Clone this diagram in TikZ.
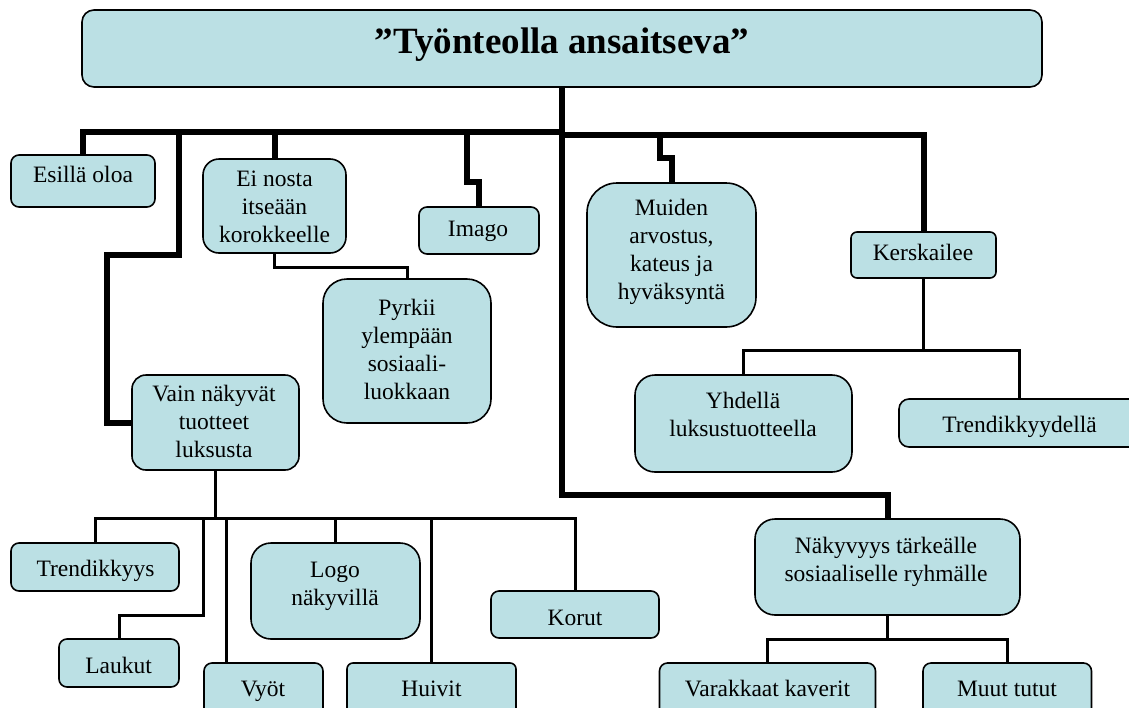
\documentclass[tikz,border=0pt]{standalone}
\usepackage{tikz}
\usepackage{fontspec}
\setmainfont{Liberation Serif}
\usetikzlibrary{calc}
\definecolor{boxfill}{RGB}{187,224,228}
\pgfdeclarelayer{bg}
\pgfsetlayers{bg,main}
\newcommand\mybox[6]{\node[bx, rounded corners=#6pt, minimum width={#4-#2}, minimum height={#5-#3}] (#1) at ({(#2+#4)/2},{(#3+#5)/2}) {};}
\begin{document}
\begin{tikzpicture}[x=1pt,y=-1pt,
  bx/.style={draw=black, line width=1.6pt, fill=boxfill, inner sep=0pt, outer sep=0pt},
  txt/.style={inner sep=0pt, outer sep=0pt, align=center, font=\fontsize{23.5}{28}\selectfont,
    execute at begin node=\strut, execute at end node=\strut},
  ttl/.style={inner sep=0pt, outer sep=0pt, align=center, font=\bfseries\fontsize{37}{44}\selectfont,
    execute at begin node=\strut, execute at end node=\strut},
  thk/.style={line width=6pt},
  thn/.style={line width=3pt}]
\useasboundingbox (0,0) rectangle (1129,707);
\clip (0,0) rectangle (1129,707);
% boxes
\mybox{title}{82}{10}{1042}{87}{12}
\mybox{esilla}{11}{155}{155}{207}{8}
\mybox{einosta}{203}{159}{346}{253}{16}
\mybox{imago}{419}{207}{539}{254}{8}
\mybox{muiden}{587}{183}{756}{327}{30}
\mybox{kersk}{851}{232}{996}{278}{6}
\mybox{pyrkii}{323}{279}{491}{423}{24}
\mybox{vain}{132}{375}{299}{470}{14}
\mybox{yhd}{635}{375}{852}{472}{20}
\mybox{trendB}{899}{399}{1140}{447}{10}
\mybox{nakyv}{755}{519}{1020}{615}{20}
\mybox{trendk}{11}{543}{179}{591}{8}
\mybox{logo}{251}{543}{420}{639}{20}
\mybox{korut}{491}{591}{659}{638}{8}
\mybox{laukut}{59}{639}{179}{687}{8}
\mybox{vyot}{204}{663}{323}{720}{8}
\mybox{huivit}{347}{663}{516}{720}{6}
\mybox{varak}{659.5}{663}{875.5}{720}{8}
\mybox{muut}{923}{663}{1091.5}{720}{8}
% texts
\node[ttl] (titleT) at (562,44.5) {”Työnteolla ansaitseva”};
\node[txt] (esillaT) at (83,177) {Esillä oloa};
\node[txt] (einostaT) at (274.5,211) {Ei nosta\\itseään\\korokkeelle};
\node[txt] (imagoT) at (478,230.4) {Imago};
\node[txt] (muidenT) at (671.5,253.4) {Muiden\\arvostus,\\kateus ja\\hyväksyntä};
\node[txt] (kerskT) at (923,254.4) {Kerskailee};
\node[txt] (pyrkiiT) at (407,353.4) {Pyrkii\\ylempään\\sosiaali-\\luokkaan};
\node[txt] (vainT) at (214,425.7) {Vain näkyvät\\tuotteet\\luksusta};
\node[txt] (yhdT) at (743,418.4) {Yhdellä\\luksustuotteella};
\node[txt] (trendBT) at (1019.5,427) {Trendikkyydellä};
\node[txt] (nakyvT) at (886,563.4) {Näkyvyys tärkeälle\\sosiaaliselle ryhmälle};
\node[txt] (trendkT) at (95.5,571) {Trendikkyys};
\node[txt] (logoT) at (335,588.4) {Logo\\näkyvillä};
\node[txt] (korutT) at (575,619.4) {Korut};
\node[txt] (laukutT) at (118.6,667.7) {Laukut};
\node[txt] (vyotT) at (263,691) {Vyöt};
\node[txt] (huivitT) at (431.5,691) {Huivit};
\node[txt] (varakT) at (767.5,691) {Varakkaat kaverit};
\node[txt] (muutT) at (1007,691) {Muut tutut};
% connectors
\begin{pgfonlayer}{bg}
\coordinate (barJ) at (562,131.5);
\coordinate (barJr) at (562,134.5);
\coordinate (tn) at (887.5,495);
\draw[thk] (title.south) |- (tn) -- (nakyv.north);
\draw[thk] (esilla.north) |- (barJ);
\draw[thk] (barJr) -| (kersk.north);
\draw[thk] (einosta.north) -- (einosta.north |- barJ);
\coordinate (L1) at (178.5,131.5);
\coordinate (L2) at (178.5,255);
\coordinate (L3) at (107,255);
\draw[thk] (L1) -- (L2) -- (L3) |- (vain.west);
\coordinate (I1) at (467,131.5);
\coordinate (I2) at (467,182);
\draw[thk] (I1) -- (I2) -| (imago.north);
\coordinate (M1) at (659.5,134.5);
\coordinate (M2) at (659.5,158);
\draw[thk] (M1) -- (M2) -| (muiden.north);
% thin
\draw[thn] (einosta.south) -- ++(0,14) -| (pyrkii.north);
\coordinate (kb) at (923.5,350);
\draw[thn] (kersk.south) -- (kb);
\draw[thn] (yhd.north) |- (kb) -| (trendB.north);
\coordinate (vb) at (215.5,518);
\draw[thn] (vain.south) -- (vb);
\draw[thn] (trendk.north) |- (vb) -| (korut.north);
\draw[thn] (logo.north) -- (logo.north |- vb);
\draw[thn] (huivit.north) -- (huivit.north |- vb);
\coordinate (V1) at (226,518);
\coordinate (V2) at (226,663);
\draw[thn] (V1) -- (V2);
\coordinate (La1) at (203,518);
\coordinate (La2) at (203,615);
\draw[thn] (La1) -- (La2) -| (laukut.north);
\coordinate (nb) at (887.5,639);
\draw[thn] (nakyv.south) -- (nb);
\draw[thn] (varak.north) |- (nb) -| (muut.north);
\end{pgfonlayer}
\end{tikzpicture}
\end{document}
